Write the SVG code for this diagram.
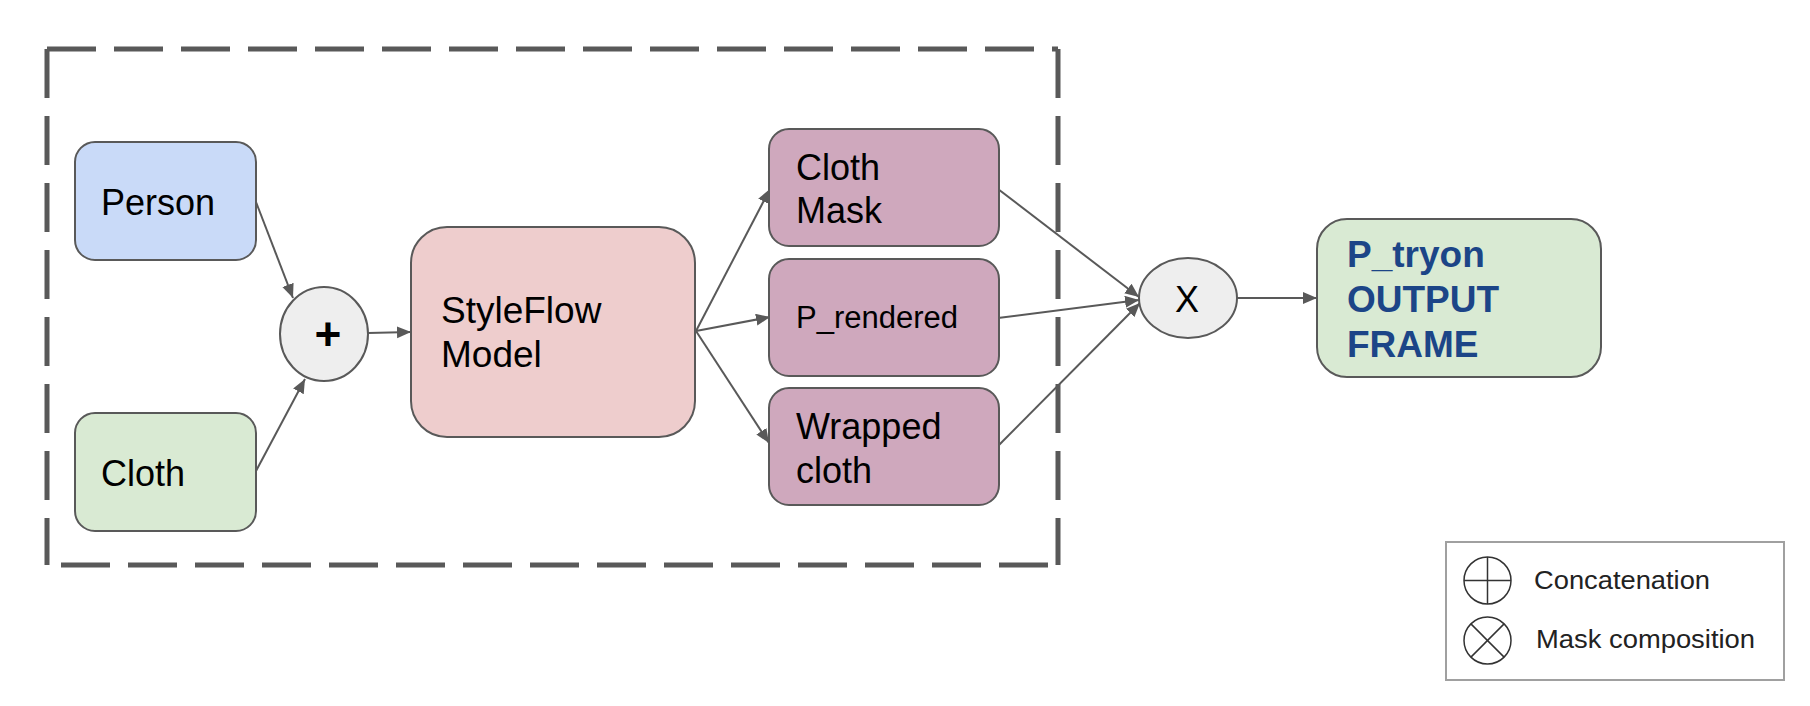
<svg xmlns="http://www.w3.org/2000/svg" width="1810" height="706" viewBox="0 0 1810 706">
<defs>
<style>
.box{stroke:#595959;stroke-width:2}
.t{font-family:"Liberation Sans",Arial,sans-serif;fill:#000}
.big{font-size:36px}
.conn{stroke:#595959;stroke-width:2;fill:none;marker-end:url(#arr)}
.dash{stroke:#595959;stroke-width:5;fill:none;stroke-dasharray:49 18}
.out{font-family:"Liberation Sans",Arial,sans-serif;font-weight:bold;font-size:37px;fill:#1c4587}
.leg{font-family:"Liberation Sans",Arial,sans-serif;font-size:25px;fill:#222}
.sym{stroke:#333;stroke-width:1.5;fill:none}
</style>
<marker id="arr" markerUnits="userSpaceOnUse" markerWidth="15" markerHeight="13" refX="14" refY="6" orient="auto">
<path d="M0,0 L14,6 L0,12 z" fill="#595959"/>
</marker>
</defs>
<rect width="1810" height="706" fill="#fff"/>
<g id="group-border">
<path class="dash" d="M47,49 H1058"/>
<path class="dash" d="M47,49 V565"/>
<path class="dash" d="M1058,49 V565"/>
<path class="dash" d="M1048,565 H47"/>
</g>
<g id="connectors">
<line class="conn" x1="256" y1="202" x2="293" y2="298"/>
<line class="conn" x1="256" y1="471" x2="305" y2="379"/>
<line class="conn" x1="368" y1="333" x2="411" y2="332"/>
<line class="conn" x1="696" y1="331" x2="770" y2="189"/>
<line class="conn" x1="696" y1="331" x2="770" y2="317"/>
<line class="conn" x1="696" y1="331" x2="769" y2="443"/>
<line class="conn" x1="998" y1="189" x2="1139" y2="297"/>
<line class="conn" x1="998" y1="318" x2="1139" y2="300"/>
<line class="conn" x1="998" y1="446" x2="1140" y2="303"/>
<line class="conn" x1="1237" y1="298" x2="1317" y2="298"/>
</g>
<g id="node-person">
<rect class="box" x="75" y="142" width="181" height="118" rx="20" fill="#c9daf8"/>
<text class="t big" x="101" y="215">Person</text>
</g>
<g id="node-cloth">
<rect class="box" x="75" y="413" width="181" height="118" rx="20" fill="#d9ead3"/>
<text class="t big" x="101" y="486">Cloth</text>
</g>
<g id="node-concat">
<ellipse class="box" cx="324" cy="334" rx="44" ry="47" fill="#eeeeee"/>
<text class="t" x="328" y="350" font-size="46" font-weight="bold" text-anchor="middle">+</text>
</g>
<g id="node-styleflow">
<rect class="box" x="411" y="227" width="284" height="210" rx="36" fill="#eecdcd"/>
<text class="t" font-size="37" x="441" y="323">StyleFlow</text>
<text class="t" font-size="37" x="441" y="367">Model</text>
</g>
<g id="node-clothmask">
<rect class="box" x="769" y="129" width="230" height="117" rx="20" fill="#cfa8bd"/>
<text class="t big" x="796" y="180">Cloth</text>
<text class="t big" x="796" y="223">Mask</text>
</g>
<g id="node-prendered">
<rect class="box" x="769" y="259" width="230" height="117" rx="20" fill="#cfa8bd"/>
<text class="t" font-size="31" x="796" y="328">P_rendered</text>
</g>
<g id="node-wrapped">
<rect class="box" x="769" y="388" width="230" height="117" rx="20" fill="#cfa8bd"/>
<text class="t big" x="796" y="439">Wrapped</text>
<text class="t big" x="796" y="483">cloth</text>
</g>
<g id="node-mask">
<ellipse class="box" cx="1188" cy="298" rx="49" ry="40" fill="#eeeeee"/>
<text class="t big" x="1187" y="312" text-anchor="middle">X</text>
</g>
<g id="node-output">
<rect class="box" x="1317" y="219" width="284" height="158" rx="30" fill="#d9ead3"/>
<text class="out" x="1347" y="267">P_tryon</text>
<text class="out" x="1347" y="312">OUTPUT</text>
<text class="out" x="1347" y="357">FRAME</text>
</g>
<g id="legend">
<rect x="1446" y="542" width="338" height="138" fill="#fff" stroke="#a0a0a0" stroke-width="2"/>
<ellipse class="sym" cx="1487.5" cy="580.5" rx="23.5" ry="23.5"/>
<line class="sym" x1="1464" y1="580.5" x2="1511" y2="580.5"/>
<line class="sym" x1="1487.5" y1="557" x2="1487.5" y2="604"/>
<text class="leg" x="1534" y="589" textLength="176" lengthAdjust="spacingAndGlyphs">Concatenation</text>
<ellipse class="sym" cx="1487.5" cy="640.5" rx="23.5" ry="23.5"/>
<line class="sym" x1="1470.9" y1="623.9" x2="1504.1" y2="657.1"/>
<line class="sym" x1="1504.1" y1="623.9" x2="1470.9" y2="657.1"/>
<text class="leg" x="1536" y="648" textLength="219" lengthAdjust="spacingAndGlyphs">Mask composition</text>
</g>
</svg>
